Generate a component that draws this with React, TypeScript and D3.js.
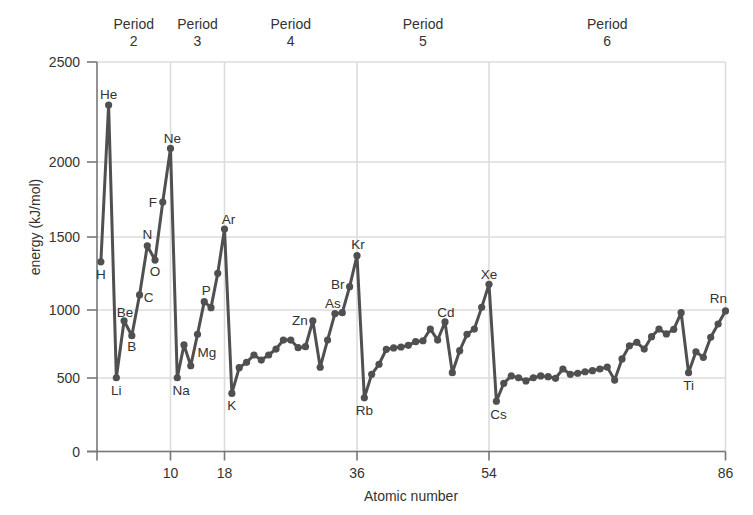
import React from "react";
import * as d3 from "d3";

// first ionization energy (kJ/mol), one array per period
const period1 = [1330, 2285];
const period2 = [502, 921, 811, 1103, 1440, 1342, 1733, 2068];
const period3 = [502, 743, 590, 821, 1057, 1016, 1251, 1553];
const period4 = [
    395, 576, 615, 669, 632, 669, 713, 779, 779, 723, 730, 921, 579, 779, 973,
    980, 1160, 1372,
];
const period5 = [
    365, 527, 601, 711, 721, 728, 740, 767, 774, 860, 779, 912, 539, 701, 821,
    860, 1018, 1176,
];
const period6 = [
    342, 464, 515, 502, 480, 502, 515, 510, 498, 566, 527, 535, 546, 554, 566,
    580, 486, 640, 737, 762, 713, 804, 860, 824, 858, 980, 539, 693, 652, 799,
    897, 993,
];

const labelNumbers = [
    1, 2, 3, 4, 5, 6, 7, 8, 9, 10, 11, 12, 15, 18, 19, 30, 33, 35, 36, 37, 48,
    54, 55, 81, 86,
];
const labelTexts = [
    "H", "He", "Li", "Be", "B", "C", "N", "O", "F", "Ne", "Na", "Mg", "P", "Ar",
    "K", "Zn", "As", "Br", "Kr", "Rb", "Cd", "Xe", "Cs", "Ti", "Rn",
];

const xTicks = [10, 18, 36, 54, 86];
const yTicks = [0, 500, 1000, 1500, 2000, 2500];
const periodNames = ["2", "3", "4", "5", "6"];
const periodEdges = [0.5, 10, 18, 36, 54, 86];

// where each label sits relative to its point
const labelOffsets: [number, number][] = [
    [0, 13], [0, -11], [0, 12.5], [1, -8], [0, 11], [9, 3], [0, -11], [0, 11],
    [-10, 0], [2, -10], [4, 13], [23, 8], [2, -11], [4, -10], [0, 12],
    [-13, 0], [-2, -10], [-12, -2], [1, -11], [0, 13], [1, -9], [0, -10],
    [2, 13], [0, 13], [-7, -12],
];

type Point = { z: number; e: number };

const energies = [
    ...period1, ...period2, ...period3, ...period4, ...period5, ...period6,
];
const points: Point[] = energies.map((e, i) => ({ z: i + 1, e }));

const width = 753;
const height = 515;
const font = "'Liberation Sans', Arial, Helvetica, sans-serif";
const ink = "#505050";
const textColor = "#333";
const gridColor = "#dcdcdc";
const axisColor = "#777";

export default function App() {
    // the original figure is not evenly spaced, so both scales are piecewise
    const x = d3
        .scaleLinear()
        .domain(periodEdges)
        .range([97, 170.5, 224.5, 357, 489, 725.5]);
    const y = d3
        .scaleLinear()
        .domain(yTicks)
        .range([451.5, 378, 310, 237, 162, 62]);

    const left = x(periodEdges[0]);
    const right = x(86);
    const top = y(2500);
    const bottom = y(0);

    const line = d3
        .line<Point>()
        .x((d) => x(d.z))
        .y((d) => y(d.e));

    return (
        <svg
            width={width}
            height={height}
            style={{ position: "absolute", left: 0, top: 0, background: "#fff" }}
            fontFamily={font}
        >
            {/* grid */}
            {yTicks.map((t) => (
                <line
                    key={"gy" + t}
                    x1={left}
                    x2={right}
                    y1={y(t)}
                    y2={y(t)}
                    stroke={gridColor}
                    strokeWidth={1.6}
                />
            ))}
            {xTicks.map((t) => (
                <line
                    key={"gx" + t}
                    x1={x(t)}
                    x2={x(t)}
                    y1={top}
                    y2={bottom}
                    stroke={gridColor}
                    strokeWidth={1.6}
                />
            ))}

            {/* axes */}
            <line x1={left} x2={left} y1={top} y2={bottom + 9} stroke={axisColor} strokeWidth={1.6} />
            <line x1={left - 10} x2={right} y1={bottom} y2={bottom} stroke={axisColor} strokeWidth={1.6} />
            {yTicks.map((t) => (
                <g key={"ty" + t}>
                    <line x1={left - 10} x2={left} y1={y(t)} y2={y(t)} stroke={axisColor} strokeWidth={1.6} />
                    <text
                        x={80}
                        y={y(t)}
                        textAnchor="end"
                        dominantBaseline="central"
                        fontSize={14}
                        fill={textColor}
                    >
                        {t}
                    </text>
                </g>
            ))}
            {xTicks.map((t) => (
                <g key={"tx" + t}>
                    <line x1={x(t)} x2={x(t)} y1={bottom} y2={bottom + 9} stroke={axisColor} strokeWidth={1.6} />
                    <text
                        x={x(t)}
                        y={473}
                        textAnchor="middle"
                        dominantBaseline="central"
                        fontSize={14}
                        fill={textColor}
                    >
                        {t}
                    </text>
                </g>
            ))}

            {/* axis titles */}
            <text
                x={411}
                y={496}
                textAnchor="middle"
                dominantBaseline="central"
                fontSize={14}
                fill={textColor}
            >
                Atomic number
            </text>
            <text
                transform="translate(35,227) rotate(-90)"
                textAnchor="middle"
                dominantBaseline="central"
                fontSize={14}
                fill={textColor}
            >
                energy (kJ/mol)
            </text>

            {/* period headings */}
            {periodNames.map((p, i) => {
                const cx = (x(periodEdges[i]) + x(periodEdges[i + 1])) / 2;
                return (
                    <text key={"p" + p} textAnchor="middle" fontSize={14} fill={textColor}>
                        <tspan x={cx} y={29}>Period</tspan>
                        <tspan x={cx} y={46}>{p}</tspan>
                    </text>
                );
            })}

            {/* series */}
            <path
                d={line(points) ?? ""}
                fill="none"
                stroke={ink}
                strokeWidth={3}
                strokeLinejoin="round"
            />
            {points.map((d) => (
                <circle key={"c" + d.z} cx={x(d.z)} cy={y(d.e)} r={3.6} fill={ink} />
            ))}

            {/* element labels */}
            {labelNumbers.map((z, i) => {
                const d = points[z - 1];
                const [dx, dy] = labelOffsets[i];
                return (
                    <text
                        key={"l" + z}
                        x={x(d.z) + dx}
                        y={y(d.e) + dy}
                        textAnchor="middle"
                        dominantBaseline="central"
                        fontSize={13.5}
                        fill={textColor}
                    >
                        {labelTexts[i]}
                    </text>
                );
            })}
        </svg>
    );
}
